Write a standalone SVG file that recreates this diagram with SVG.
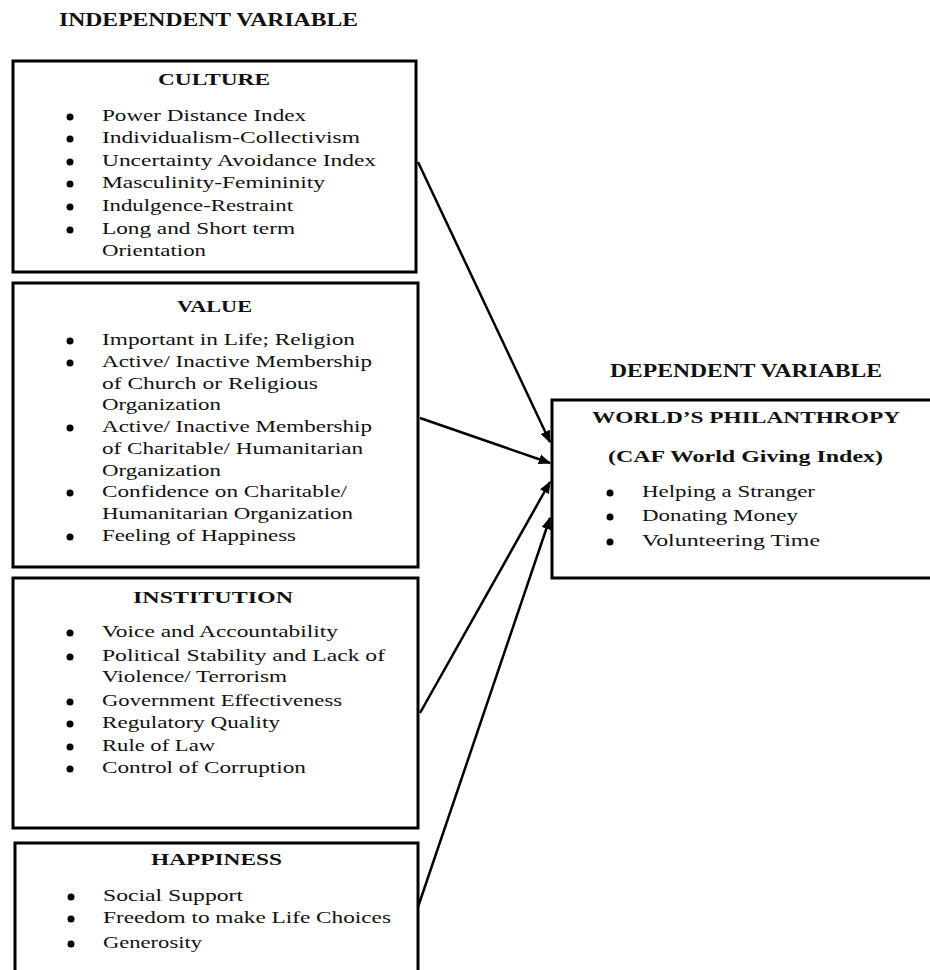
<svg xmlns="http://www.w3.org/2000/svg" width="930" height="970" viewBox="0 0 930 970">
<defs>
<marker id="ah" viewBox="0 0 10 10" refX="9" refY="5" markerWidth="5" markerHeight="5" orient="auto" markerUnits="strokeWidth">
<path d="M0,1 L10,5 L0,9 z" fill="#000"/>
</marker>
<style>
.box{fill:#fff;stroke:#000;stroke-width:3}
.t{font-family:"Liberation Serif","Times New Roman",serif;font-size:17.5px;fill:#111}
.h{font-family:"Liberation Serif","Times New Roman",serif;font-size:17px;font-weight:bold;fill:#111}
.hh{font-family:"Liberation Serif","Times New Roman",serif;font-size:18px;font-weight:bold;fill:#111}
.b{fill:#000}
.c{stroke:#000;stroke-width:2.5;fill:none;marker-end:url(#ah)}
</style>
</defs>
<rect width="930" height="970" fill="#fff"/>
<text class="hh" x="59" y="26" textLength="299" lengthAdjust="spacingAndGlyphs">INDEPENDENT VARIABLE</text>
<text class="hh" x="610" y="377" textLength="272" lengthAdjust="spacingAndGlyphs">DEPENDENT VARIABLE</text>

<g id="culture">
<rect class="box" x="13" y="61" width="403" height="211"/>
<text class="h" x="158" y="85" textLength="112" lengthAdjust="spacingAndGlyphs">CULTURE</text>
<circle class="b" cx="70" cy="117" r="3.5"/>
<circle class="b" cx="70" cy="139" r="3.5"/>
<circle class="b" cx="70" cy="162" r="3.5"/>
<circle class="b" cx="70" cy="184" r="3.5"/>
<circle class="b" cx="70" cy="207" r="3.5"/>
<circle class="b" cx="70" cy="230" r="3.5"/>
<text class="t" x="102" y="121" textLength="204" lengthAdjust="spacingAndGlyphs">Power Distance Index</text>
<text class="t" x="102" y="143" textLength="258" lengthAdjust="spacingAndGlyphs">Individualism-Collectivism</text>
<text class="t" x="102" y="166" textLength="274" lengthAdjust="spacingAndGlyphs">Uncertainty Avoidance Index</text>
<text class="t" x="102" y="188" textLength="223" lengthAdjust="spacingAndGlyphs">Masculinity-Femininity</text>
<text class="t" x="102" y="211" textLength="191" lengthAdjust="spacingAndGlyphs">Indulgence-Restraint</text>
<text class="t" x="102" y="234" textLength="193" lengthAdjust="spacingAndGlyphs">Long and Short term</text>
<text class="t" x="102" y="256" textLength="104" lengthAdjust="spacingAndGlyphs">Orientation</text>
</g>

<g id="value">
<rect class="box" x="13" y="283" width="405" height="284"/>
<text class="h" x="177" y="312" textLength="75" lengthAdjust="spacingAndGlyphs">VALUE</text>
<circle class="b" cx="70" cy="341" r="3.5"/>
<circle class="b" cx="70" cy="363" r="3.5"/>
<circle class="b" cx="70" cy="428" r="3.5"/>
<circle class="b" cx="70" cy="493" r="3.5"/>
<circle class="b" cx="70" cy="537" r="3.5"/>
<text class="t" x="102" y="345" textLength="253" lengthAdjust="spacingAndGlyphs">Important in Life; Religion</text>
<text class="t" x="102" y="367" textLength="270" lengthAdjust="spacingAndGlyphs">Active/ Inactive  Membership</text>
<text class="t" x="102" y="389" textLength="216" lengthAdjust="spacingAndGlyphs">of Church  or Religious</text>
<text class="t" x="102" y="410" textLength="119" lengthAdjust="spacingAndGlyphs">Organization</text>
<text class="t" x="102" y="432" textLength="270" lengthAdjust="spacingAndGlyphs">Active/ Inactive  Membership</text>
<text class="t" x="102" y="454" textLength="261" lengthAdjust="spacingAndGlyphs">of Charitable/  Humanitarian</text>
<text class="t" x="102" y="476" textLength="119" lengthAdjust="spacingAndGlyphs">Organization</text>
<text class="t" x="102" y="497" textLength="245" lengthAdjust="spacingAndGlyphs">Confidence on Charitable/</text>
<text class="t" x="102" y="519" textLength="251" lengthAdjust="spacingAndGlyphs">Humanitarian Organization</text>
<text class="t" x="102" y="541" textLength="194" lengthAdjust="spacingAndGlyphs">Feeling of Happiness</text>
</g>

<g id="institution">
<rect class="box" x="13" y="578" width="405" height="250"/>
<text class="h" x="133" y="603" textLength="160" lengthAdjust="spacingAndGlyphs">INSTITUTION</text>
<circle class="b" cx="70" cy="633" r="3.5"/>
<circle class="b" cx="70" cy="657" r="3.5"/>
<circle class="b" cx="70" cy="702" r="3.5"/>
<circle class="b" cx="70" cy="724" r="3.5"/>
<circle class="b" cx="70" cy="747" r="3.5"/>
<circle class="b" cx="70" cy="769" r="3.5"/>
<text class="t" x="102" y="637" textLength="236" lengthAdjust="spacingAndGlyphs">Voice and Accountability</text>
<text class="t" x="102" y="661" textLength="283" lengthAdjust="spacingAndGlyphs">Political Stability and Lack  of</text>
<text class="t" x="102" y="682" textLength="185" lengthAdjust="spacingAndGlyphs">Violence/ Terrorism</text>
<text class="t" x="102" y="706" textLength="240" lengthAdjust="spacingAndGlyphs">Government Effectiveness</text>
<text class="t" x="102" y="728" textLength="178" lengthAdjust="spacingAndGlyphs">Regulatory Quality</text>
<text class="t" x="102" y="751" textLength="113" lengthAdjust="spacingAndGlyphs">Rule of Law</text>
<text class="t" x="102" y="773" textLength="204" lengthAdjust="spacingAndGlyphs">Control of Corruption</text>
</g>

<g id="happiness">
<rect class="box" x="15" y="843" width="403" height="150"/>
<text class="h" x="151" y="865" textLength="131" lengthAdjust="spacingAndGlyphs">HAPPINESS</text>
<circle class="b" cx="71" cy="897" r="3.5"/>
<circle class="b" cx="71" cy="919" r="3.5"/>
<circle class="b" cx="71" cy="944" r="3.5"/>
<text class="t" x="103" y="901" textLength="140" lengthAdjust="spacingAndGlyphs">Social Support</text>
<text class="t" x="103" y="923" textLength="288" lengthAdjust="spacingAndGlyphs">Freedom to make Life Choices</text>
<text class="t" x="103" y="948" textLength="99" lengthAdjust="spacingAndGlyphs">Generosity</text>
</g>

<g id="philanthropy">
<rect class="box" x="552" y="400" width="400" height="178"/>
<text class="h" x="592" y="423" textLength="308" lengthAdjust="spacingAndGlyphs">WORLD’S PHILANTHROPY</text>
<text class="h" x="608" y="462" textLength="275" lengthAdjust="spacingAndGlyphs">(CAF World  Giving Index)</text>
<circle class="b" cx="610" cy="493" r="3.5"/>
<circle class="b" cx="610" cy="517" r="3.5"/>
<circle class="b" cx="610" cy="542" r="3.5"/>
<text class="t" x="642" y="497" textLength="173" lengthAdjust="spacingAndGlyphs">Helping a Stranger</text>
<text class="t" x="642" y="521" textLength="156" lengthAdjust="spacingAndGlyphs">Donating Money</text>
<text class="t" x="642" y="546" textLength="178" lengthAdjust="spacingAndGlyphs">Volunteering Time</text>
</g>

<g id="connectors">
<line class="c" x1="418" y1="162" x2="550" y2="442"/>
<line class="c" x1="420" y1="418" x2="550" y2="463"/>
<line class="c" x1="420" y1="713" x2="550" y2="482"/>
<line class="c" x1="418" y1="907" x2="550" y2="518"/>
</g>
</svg>
